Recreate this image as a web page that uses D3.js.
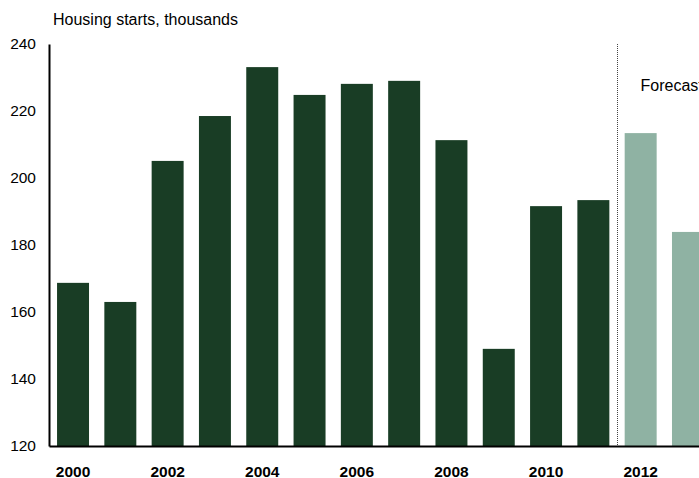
<!DOCTYPE html>
<html lang="en">
  <head>
    <meta charset="UTF-8" />
    <title>Housing starts</title>
    <script src="https://cdn.jsdelivr.net/npm/d3@7/dist/d3.min.js"></script>
    <style>
      body { margin: 0; background: #fff; }
      svg { display: block; font-family: "Liberation Sans", Arial, sans-serif; }
    </style>
  </head>
  <body>
    <div id="chart"></div>
    <script>
      const years = [2000, 2001, 2002, 2003, 2004, 2005, 2006, 2007, 2008, 2009, 2010, 2011, 2012, 2013];
      const starts = [168.7, 163, 205.1, 218.5, 233.1, 224.8, 228.1, 229, 211.3, 149, 191.6, 193.4, 213.4, 183.9];
      const forecastFrom = 2012;
      const yTicks = [120, 140, 160, 180, 200, 220, 240];
      const xTickYears = [2000, 2002, 2004, 2006, 2008, 2010, 2012];

      const width = 699, height = 478;
      const plotLeft = 49, plotTop = 44, plotBottom = 446;

      const svg = d3.select("#chart").append("svg")
        .attr("width", width)
        .attr("height", height);

      const x = d3.scaleBand()
        .domain(years)
        .range([plotLeft, 712])
        .paddingInner(0.324)
        .paddingOuter(0.17);

      const y = d3.scaleLinear().domain([120, 240]).range([plotBottom, plotTop]);

      // bars
      svg.selectAll("rect.bar")
        .data(years)
        .enter()
        .append("rect")
        .attr("class", "bar")
        .attr("x", (d) => x(d))
        .attr("width", x.bandwidth())
        .attr("y", (d, i) => y(starts[i]))
        .attr("height", (d, i) => plotBottom - y(starts[i]))
        .attr("fill", (d) => (d >= forecastFrom ? "#8fb2a3" : "#193d25"));

      // forecast divider
      const divX = Math.round((x(forecastFrom - 1) + x.bandwidth() + x(forecastFrom)) / 2) + 0.5;
      svg.append("line")
        .attr("x1", divX).attr("x2", divX)
        .attr("y1", plotTop).attr("y2", plotBottom)
        .attr("stroke", "#444")
        .attr("stroke-width", 1)
        .attr("stroke-dasharray", "1,1");

      svg.append("text")
        .attr("x", divX + 23)
        .attr("y", 91)
        .attr("font-size", 16)
        .attr("fill", "#000")
        .text("Forecast");

      // y axis
      const yAxis = d3.axisLeft(y).tickValues(yTicks).tickSize(0).tickPadding(13);
      const gy = svg.append("g").attr("transform", `translate(${plotLeft},0)`).call(yAxis);
      gy.select(".domain").attr("stroke", "#000").attr("stroke-width", 2);
      gy.selectAll("text").attr("font-size", 15.5).attr("fill", "#000")
        .attr("font-family", "Liberation Sans, Arial, sans-serif");

      // x axis
      const xAxis = d3.axisBottom(x).tickValues(xTickYears).tickSize(0).tickPadding(20);
      const gx = svg.append("g").attr("transform", `translate(0,${plotBottom})`).call(xAxis);
      gx.select(".domain").attr("stroke", "#000").attr("stroke-width", 2);
      gx.selectAll("text").attr("font-size", 15.5).attr("font-weight", "bold").attr("fill", "#000")
        .attr("font-family", "Liberation Sans, Arial, sans-serif");

      svg.append("text")
        .attr("x", 53)
        .attr("y", 25)
        .attr("font-size", 16)
        .attr("fill", "#000")
        .text("Housing starts, thousands");
    </script>
  </body>
</html>
